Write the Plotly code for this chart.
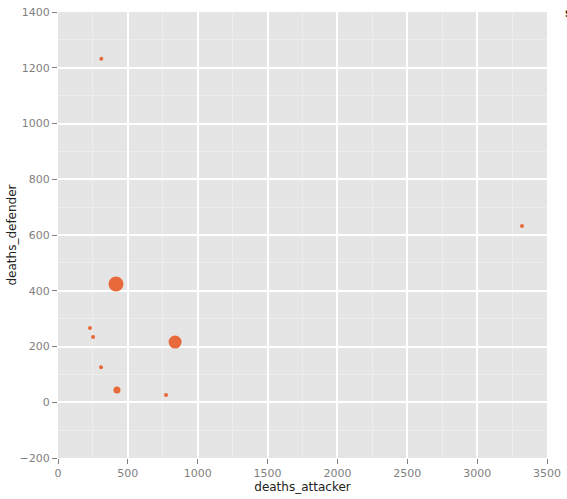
import plotly.graph_objects as go

deaths_attacker = [310, 415, 229, 251, 308, 422, 838, 773, 3321]
deaths_defender = [1232, 424, 266, 234, 126, 44, 216, 26, 632]
size_value = [4, 15, 4, 4, 4, 7, 13, 4, 4]

x_ticks = [0, 500, 1000, 1500, 2000, 2500, 3000, 3500]
y_ticks = [-200, 0, 200, 400, 600, 800, 1000, 1200, 1400]

fig = go.Figure()
fig.add_trace(go.Scatter(
    x=deaths_attacker, y=deaths_defender, mode="markers",
    marker=dict(color="#E8693A", size=size_value, line=dict(width=0), opacity=1),
    showlegend=False, hoverinfo="skip"))

axis_common = dict(
    showgrid=True, gridcolor="white", gridwidth=1.5,
    minor=dict(showgrid=True, gridcolor="#EDEDED", gridwidth=0.7, ticks=""),
    zeroline=False, showline=False, automargin=False,
    ticks="outside", ticklen=5, tickcolor="#7F7F7F", tickwidth=1,
    tickfont=dict(family="DejaVu Sans", size=11, color="#7F7F7F"),
    title_font=dict(family="DejaVu Sans", size=12, color="#222222"),
)

fig.update_xaxes(range=[0, 3500], tickvals=x_ticks, title_text="deaths_attacker",
                 title_standoff=3, minor_dtick=250, **axis_common)
fig.update_yaxes(range=[-200, 1400], tickvals=y_ticks, title_text="deaths_defender",
                 title_standoff=0, minor_dtick=100, **axis_common)

fig.add_annotation(xref="paper", yref="paper", x=1.0, y=1.0, xshift=16, yshift=8,
                   text="<b>size</b>", showarrow=False, xanchor="left", yanchor="top",
                   font=dict(family="DejaVu Sans", size=12, color="#222222"))

fig.update_layout(
    width=567, height=499,
    margin=dict(l=58, r=20, t=12, b=41, autoexpand=False),
    plot_bgcolor="#E5E5E5", paper_bgcolor="white",
    font=dict(family="DejaVu Sans"),
)

fig.write_html("out.html", config={"displayModeBar": False},
               post_script="document.body.style.margin='0';document.body.style.overflow='hidden';")
